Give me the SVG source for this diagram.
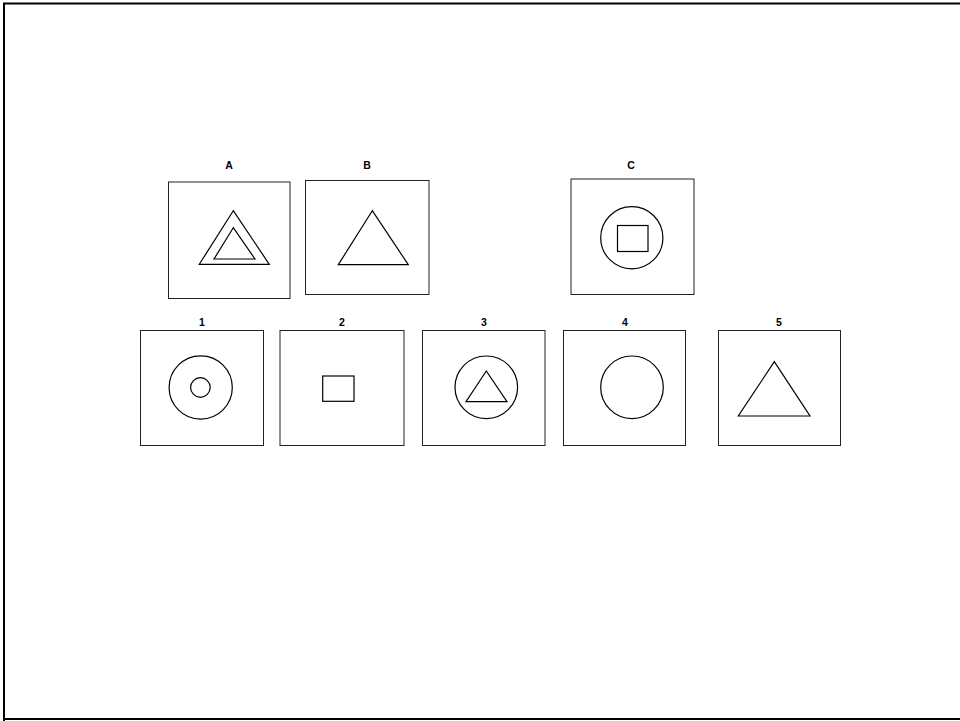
<svg xmlns="http://www.w3.org/2000/svg" width="960" height="721" viewBox="0 0 960 721">
<style>
.frame{fill:none;stroke:#222;stroke-width:1}
.shape{fill:none;stroke:#000;stroke-width:1.2}
.lbl{font-family:"Liberation Sans",Arial,sans-serif;font-weight:bold;font-size:10.5px;fill:#000;text-anchor:middle}
</style>
<rect width="960" height="721" fill="#fff"/>
<path d="M4,721 V3.5 H960 M4,719 H960" fill="none" stroke="#000" stroke-width="2"/>
<g id="nodeA">
<text class="lbl" x="229" y="168.5">A</text>
<rect class="frame" x="168.5" y="182" width="121.5" height="116.5"/>
<polygon class="shape" points="233.3,210.7 199.3,264.3 269.3,264.3"/>
<polygon class="shape" points="233.3,227.7 214,259 255,259"/>
</g>
<g id="nodeB">
<text class="lbl" x="367" y="168.5">B</text>
<rect class="frame" x="305.5" y="180.5" width="123.5" height="114"/>
<polygon class="shape" points="372.3,210.7 338.3,264.7 408.3,264.7"/>
</g>
<g id="nodeC">
<text class="lbl" x="631" y="168.5">C</text>
<rect class="frame" x="571" y="179" width="123" height="115.5"/>
<circle class="shape" cx="631.8" cy="237.7" r="31.1"/>
<rect class="shape" x="617.5" y="225.5" width="30.5" height="26"/>
</g>
<g id="node1">
<text class="lbl" x="202" y="325.5">1</text>
<rect class="frame" x="140.5" y="330.5" width="123" height="115"/>
<circle class="shape" cx="200.7" cy="387.5" r="31.6"/>
<circle class="shape" cx="200.4" cy="387.5" r="9.8"/>
</g>
<g id="node2">
<text class="lbl" x="342" y="325.5">2</text>
<rect class="frame" x="280" y="330.5" width="124" height="115"/>
<rect class="shape" x="322.7" y="376" width="31.3" height="25.3"/>
</g>
<g id="node3">
<text class="lbl" x="484" y="325.5">3</text>
<rect class="frame" x="422.5" y="330.5" width="122.5" height="115"/>
<circle class="shape" cx="486.3" cy="387.3" r="31.3"/>
<polygon class="shape" points="486.3,371 466,401.7 507,401.7"/>
</g>
<g id="node4">
<text class="lbl" x="625" y="325.5">4</text>
<rect class="frame" x="563.5" y="330.5" width="122" height="115"/>
<circle class="shape" cx="632" cy="387.3" r="31.3"/>
</g>
<g id="node5">
<text class="lbl" x="779" y="325.5">5</text>
<rect class="frame" x="718.5" y="330.5" width="122" height="115"/>
<polygon class="shape" points="774.3,361.7 738.3,416 810,416"/>
</g>
<g id="connectors"></g>
</svg>
